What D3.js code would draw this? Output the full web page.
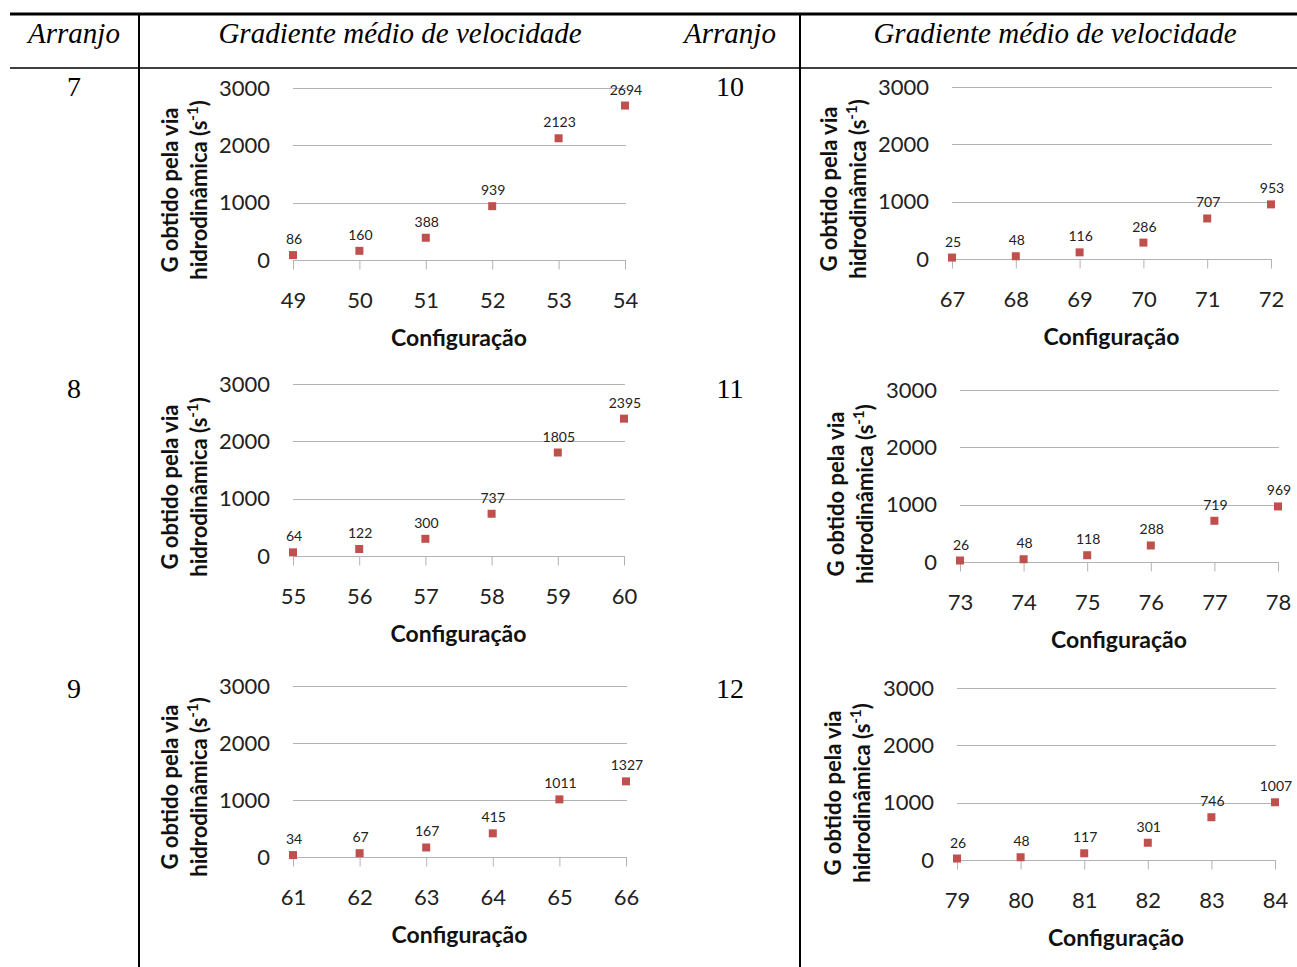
<!DOCTYPE html>
<html>
<head>
<meta charset="utf-8">
<script src="https://cdn.jsdelivr.net/npm/d3@7"></script>
<style>
  body { margin: 0; background: #fff; }
  svg { display: block; }
</style>
</head>
<body>
<svg width="1297" height="967"></svg>
<script>
// values
var arranjos = ["7", "8", "9", "10", "11", "12"];
var configs7 = ["49", "50", "51", "52", "53", "54"];
var configs8 = ["55", "56", "57", "58", "59", "60"];
var configs9 = ["61", "62", "63", "64", "65", "66"];
var configs10 = ["67", "68", "69", "70", "71", "72"];
var configs11 = ["73", "74", "75", "76", "77", "78"];
var configs12 = ["79", "80", "81", "82", "83", "84"];
var g7 = [86, 160, 388, 939, 2123, 2694];
var g8 = [64, 122, 300, 737, 1805, 2395];
var g9 = [34, 67, 167, 415, 1011, 1327];
var g10 = [25, 48, 116, 286, 707, 953];
var g11 = [26, 48, 118, 288, 719, 969];
var g12 = [26, 48, 117, 301, 746, 1007];
var yTicks = [0, 1000, 2000, 3000];

var svg = d3.select("svg");
var labelFont = "Lato, 'Open Sans', sans-serif",
    serif = "'Liberation Serif', 'DejaVu Serif', serif",
    red = "#c0504d",
    grid = "#b3b3b3";

// table rules
svg.append("line").attr("x1", 10).attr("x2", 1297).attr("y1", 14).attr("y2", 14)
    .attr("stroke", "#000").attr("stroke-width", 3);
svg.append("line").attr("x1", 10).attr("x2", 1297).attr("y1", 68).attr("y2", 68)
    .attr("stroke", "#000").attr("stroke-width", 1.5);
[139, 800].forEach(function(x) {
  svg.append("line").attr("x1", x).attr("x2", x).attr("y1", 14).attr("y2", 967)
      .attr("stroke", "#000").attr("stroke-width", 2);
});

// header
var heads = [{t: "Arranjo", x: 74}, {t: "Gradiente médio de velocidade", x: 400},
             {t: "Arranjo", x: 730}, {t: "Gradiente médio de velocidade", x: 1055}];
svg.selectAll(".head").data(heads).enter().append("text")
    .attr("class", "head")
    .attr("x", function(d) { return d.x; })
    .attr("y", 43)
    .attr("text-anchor", "middle")
    .attr("font-family", serif)
    .attr("font-style", "italic")
    .attr("font-size", 29)
    .text(function(d) { return d.t; });

// panel layout: where each small chart sits
var panels = [
  {cats: configs7,  vals: g7,  num: arranjos[0], nx: 74,  ny: 96,  x0: 293, x1: 625,  y0: 260, y3: 88,  tickR: 270, yt1: 170, yt2: 199, ytc: 190},
  {cats: configs8,  vals: g8,  num: arranjos[1], nx: 74,  ny: 398, x0: 293, x1: 624,  y0: 556, y3: 384, tickR: 270, yt1: 170, yt2: 199, ytc: 487},
  {cats: configs9,  vals: g9,  num: arranjos[2], nx: 74,  ny: 698, x0: 293, x1: 626,  y0: 857, y3: 686, tickR: 270, yt1: 170, yt2: 199, ytc: 787},
  {cats: configs10, vals: g10, num: arranjos[3], nx: 730, ny: 96,  x0: 952, x1: 1271, y0: 259, y3: 87,  tickR: 929, yt1: 829, yt2: 858, ytc: 189},
  {cats: configs11, vals: g11, num: arranjos[4], nx: 730, ny: 398, x0: 960, x1: 1278, y0: 562, y3: 390, tickR: 937, yt1: 836, yt2: 865, ytc: 494},
  {cats: configs12, vals: g12, num: arranjos[5], nx: 730, ny: 698, x0: 957, x1: 1275, y0: 860, y3: 688, tickR: 934, yt1: 833, yt2: 862, ytc: 793}
];

panels.forEach(function(p) {
  var x = d3.scalePoint().domain(p.cats).range([p.x0, p.x1]);
  var y = d3.scaleLinear().domain([0, 3000]).range([p.y0, p.y3]);
  var g = svg.append("g");

  // row number
  g.append("text")
      .attr("x", p.nx).attr("y", p.ny)
      .attr("text-anchor", "middle")
      .attr("font-family", serif)
      .attr("font-size", 28)
      .text(p.num);

  // gridlines
  g.selectAll(".grid").data(yTicks.slice(1)).enter().append("line")
      .attr("x1", p.x0).attr("x2", p.x1 + 1)
      .attr("y1", function(d) { return Math.round(y(d)) + 0.5; })
      .attr("y2", function(d) { return Math.round(y(d)) + 0.5; })
      .attr("stroke", grid).attr("stroke-width", 1);

  // x axis
  var xa = g.append("g")
      .attr("transform", "translate(0," + (Math.round(p.y0) + 0.5) + ")")
      .call(d3.axisBottom(x).tickSize(9).tickSizeOuter(0).tickPadding(23));
  xa.select(".domain").attr("stroke", grid).attr("d", "M" + p.x0 + ",0H" + (p.x1 + 1));
  xa.selectAll(".tick line").attr("stroke", grid);
  xa.selectAll("text")
      .attr("font-family", labelFont)
      .attr("font-size", 22)
      .attr("fill", "#222");

  // y tick labels
  g.selectAll(".ylab").data(yTicks).enter().append("text")
      .attr("x", p.tickR)
      .attr("y", function(d) { return y(d); })
      .attr("dy", "0.35em")
      .attr("text-anchor", "end")
      .attr("font-family", labelFont)
      .attr("font-size", 22)
      .attr("fill", "#222")
      .text(function(d) { return d; });

  // x title
  g.append("text")
      .attr("x", (p.x0 + p.x1) / 2)
      .attr("y", p.y0 + 86)
      .attr("text-anchor", "middle")
      .attr("font-family", labelFont)
      .attr("font-weight", "bold")
      .attr("font-size", 23)
      .attr("fill", "#111")
      .text("Configuração");

  // y title, two rotated lines
  g.append("text")
      .attr("transform", "translate(" + p.yt1 + "," + p.ytc + ") rotate(-90)")
      .attr("text-anchor", "middle")
      .attr("dy", "0.35em")
      .attr("font-family", labelFont)
      .attr("font-weight", "bold")
      .attr("font-size", 22)
      .attr("fill", "#111")
      .text("G obtido pela via");
  var t2 = g.append("text")
      .attr("transform", "translate(" + p.yt2 + "," + p.ytc + ") rotate(-90)")
      .attr("text-anchor", "middle")
      .attr("dy", "0.35em")
      .attr("font-family", labelFont)
      .attr("font-weight", "bold")
      .attr("font-size", 22)
      .attr("fill", "#111");
  t2.append("tspan").text("hidrodinâmica (s");
  t2.append("tspan").attr("baseline-shift", "super").attr("font-size", 15).text("-1");
  t2.append("tspan").text(")");

  // points
  var pts = p.cats.map(function(c, i) { return {c: c, v: p.vals[i]}; });
  g.selectAll(".pt").data(pts).enter().append("rect")
      .attr("x", function(d) { return x(d.c) - 4; })
      .attr("y", function(d) { return y(d.v) - 4; })
      .attr("width", 8).attr("height", 8)
      .attr("fill", red);

  // data labels
  g.selectAll(".dl").data(pts).enter().append("text")
      .attr("x", function(d) { return x(d.c) + 1; })
      .attr("y", function(d) { return y(d.v) - 11; })
      .attr("text-anchor", "middle")
      .attr("font-family", labelFont)
      .attr("font-size", 14)
      .attr("fill", "#222")
      .text(function(d) { return d.v; });
});
</script>
</body>
</html>
